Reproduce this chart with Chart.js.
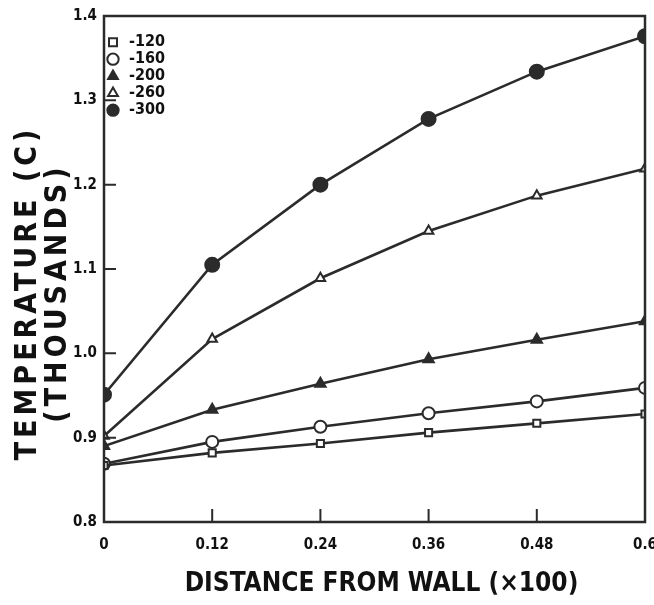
<!DOCTYPE html>
<html>
<head>
<meta charset="utf-8">
<script src="https://cdn.jsdelivr.net/npm/chart.js@4/dist/chart.umd.min.js"></script>
<style>
  html, body { margin: 0; padding: 0; background: #fff; }
  #wrap { width: 654px; height: 605px; }
</style>
</head>
<body>
<div id="wrap"><canvas id="tempChart" width="654" height="605"></canvas></div>
<script>
// distance from wall (x100) and temperature (thousands of C) per series
const distance = [0, 0.12, 0.24, 0.36, 0.48, 0.6];
const seriesNames = ["-120", "-160", "-200", "-260", "-300"];
const temp120 = [0.867, 0.882, 0.893, 0.906, 0.917, 0.928];
const temp160 = [0.869, 0.895, 0.913, 0.929, 0.943, 0.959];
const temp200 = [0.890, 0.933, 0.964, 0.993, 1.016, 1.038];
const temp260 = [0.902, 1.017, 1.089, 1.145, 1.187, 1.219];
const temp300 = [0.951, 1.105, 1.200, 1.278, 1.334, 1.376];

const xTicks = [0, 0.12, 0.24, 0.36, 0.48, 0.6];
const xTickLabels = ["0", "0.12", "0.24", "0.36", "0.48", "0.6"];
const yTicks = [0.8, 0.9, 1.0, 1.1, 1.2, 1.3, 1.4];
const yTickLabels = ["0.8", "0.9", "1.0", "1.1", "1.2", "1.3", "1.4"];

const ink = "#2b2b2b";
const textInk = "#111";
const fontFamily = "'DejaVu Sans Condensed', 'Liberation Sans Narrow', sans-serif";

const toPoints = (values) => distance.map((d, i) => ({ x: d, y: values[i] }));

function series(label, values, pointStyle, filled, radius) {
  return {
    label: label,
    data: toPoints(values),
    borderColor: ink,
    borderWidth: 2.6,
    tension: 0,
    fill: false,
    pointStyle: pointStyle,
    pointRadius: radius,
    pointBorderWidth: 2,
    pointBorderColor: ink,
    pointBackgroundColor: filled ? ink : "#fff",
  };
}

// inward tick marks and the closed frame round the plot
const frameTicks = {
  id: "frameTicks",
  afterDatasetsDraw(chart) {
    const { ctx, chartArea, scales } = chart;
    ctx.save();
    ctx.strokeStyle = ink;
    ctx.lineWidth = 2.5;
    ctx.strokeRect(chartArea.left, chartArea.top, chartArea.width, chartArea.height);
    ctx.lineWidth = 2;
    ctx.beginPath();
    xTicks.slice(1, -1).forEach((v) => {
      const px = scales.x.getPixelForValue(v);
      ctx.moveTo(px, chartArea.bottom);
      ctx.lineTo(px, chartArea.bottom - 13);
    });
    yTicks.slice(1, -1).forEach((v) => {
      const py = scales.y.getPixelForValue(v);
      ctx.moveTo(chartArea.left, py);
      ctx.lineTo(chartArea.left + 12, py);
    });
    ctx.stroke();
    ctx.restore();
  },
};

const chart = new Chart(document.getElementById("tempChart").getContext("2d"), {
  type: "line",
  data: {
    datasets: [
      series(seriesNames[0], temp120, "rect", false, 5),
      series(seriesNames[1], temp160, "circle", false, 6),
      series(seriesNames[2], temp200, "triangle", true, 6),
      series(seriesNames[3], temp260, "triangle", false, 5.5),
      series(seriesNames[4], temp300, "circle", true, 7),
    ],
  },
  options: {
    responsive: false,
    animation: false,
    layout: { padding: { top: 13, right: 7, bottom: 6, left: 13 } },
    plugins: {
      tooltip: { enabled: false },
      legend: {
        position: "chartArea",
        align: "start",
        title: { display: true, text: "", padding: { top: 32, bottom: 0 }, font: { size: 1 } },
        labels: {
          usePointStyle: true,
          boxWidth: 16,
          boxHeight: 8,
          padding: 1,
          color: textInk,
          font: { family: fontFamily, size: 16, weight: "bold" },
        },
      },
    },
    scales: {
      x: {
        type: "linear",
        min: 0,
        max: 0.6,
        afterBuildTicks: (scale) => { scale.ticks = xTicks.map((v) => ({ value: v })); },
        afterFit: (scale) => { scale.paddingRight = 0; scale.height = 77; },
        grid: { display: false, drawTicks: false },
        border: { display: false },
        ticks: {
          padding: 14,
          color: textInk,
          maxRotation: 0,
          font: { family: fontFamily, size: 15, weight: "bold" },
          callback: (value) => xTickLabels[xTicks.indexOf(value)],
        },
        title: {
          display: true,
          text: "DISTANCE FROM WALL (×100)",
          color: textInk,
          padding: { top: 8, bottom: 0 },
          font: { family: fontFamily, size: 26, weight: "bold", lineHeight: 1.1 },
        },
      },
      y: {
        type: "linear",
        min: 0.8,
        max: 1.4,
        afterBuildTicks: (scale) => { scale.ticks = yTicks.map((v) => ({ value: v })); },
        afterFit: (scale) => { scale.width = 91; },
        grid: { display: false, drawTicks: false },
        border: { display: false },
        ticks: {
          padding: 7,
          color: textInk,
          font: { family: fontFamily, size: 15, weight: "bold" },
          callback: (value) => yTickLabels[yTicks.findIndex((t) => Math.abs(t - value) < 1e-9)],
        },
        title: {
          display: true,
          text: ["TEMPERATURE (C)", "(THOUSANDS)"],
          color: textInk,
          padding: { top: 0, bottom: 0 },
          font: { family: fontFamily, size: 30, weight: "bold", lineHeight: 1.0 },
        },
      },
    },
  },
  plugins: [frameTicks],
});

// the printed axis titles are letter-spaced and sit a little off centre
function spaceTitle(scale, spacing, dx, dy) {
  const base = scale.drawTitle.bind(scale);
  scale.drawTitle = function () {
    this.ctx.save();
    this.ctx.letterSpacing = spacing;
    this.ctx.translate(dx, dy);
    base();
    this.ctx.restore();
  };
}
spaceTitle(chart.scales.x, "0px", 7, 0);
spaceTitle(chart.scales.y, "4px", 0, 24);
chart.draw();
</script>
</body>
</html>
